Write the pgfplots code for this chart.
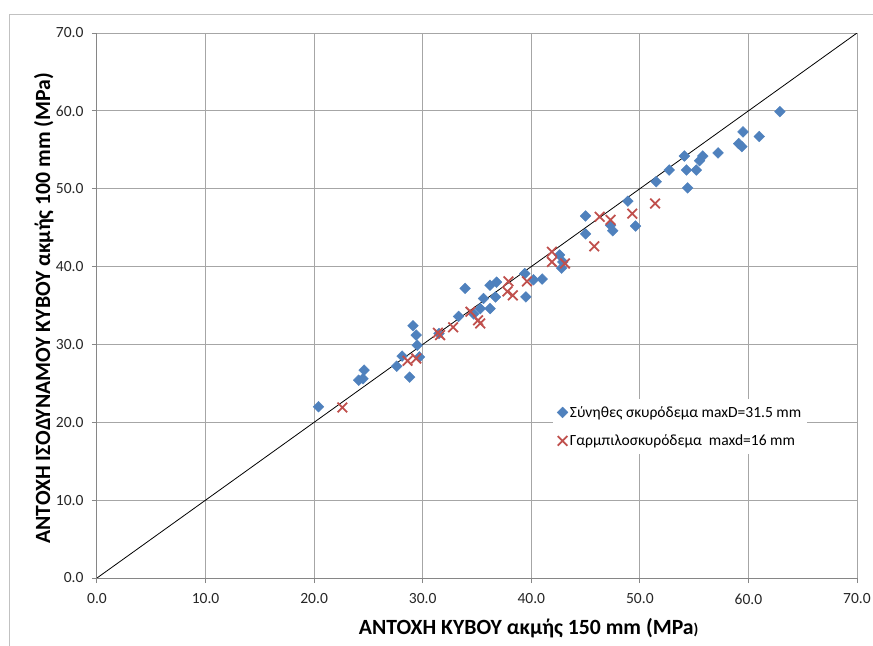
\documentclass[border=0pt]{standalone}
\usepackage{pgfplots}
\pgfplotsset{compat=1.18}
\usepackage{fontspec}
\setmainfont{Carlito}
\definecolor{serblue}{HTML}{4F81BD}
\definecolor{serred}{HTML}{C0504D}
\definecolor{gridgray}{HTML}{A6A6A6}
\definecolor{axgray}{HTML}{868686}

\begin{document}
\begin{tikzpicture}
\useasboundingbox (-97bp,-68bp) rectangle (776bp,578bp);
\draw[gridgray!70, line width=0.9bp] (-88bp,-68bp) -- (-88bp,564bp) -- (776bp,564bp);
\begin{axis}[
  scale only axis, width=760bp, height=545bp,
  xmin=0, xmax=70, ymin=0, ymax=70,
  xtick={0,10,...,70}, ytick={0,10,...,70},
  axis lines=left, axis line style={-, draw=axgray, line width=1bp},
  grid=major, major grid style={gridgray, line width=1bp},
  tick align=outside, major tick length=5bp, tick style={axgray, line width=1bp},
  /pgf/number format/fixed, /pgf/number format/fixed zerofill,
  /pgf/number format/precision=1, /pgf/number format/assume math mode=true,
  ticklabel style={font=\fontsize{15.6}{18}\selectfont, text=black!85},
  xticklabel style={yshift=-7bp},
  yticklabel style={xshift=-5bp},
  xlabel={ΑΝΤΟΧΗ ΚΥΒΟΥ ακμής 150 mm (MPa{\fontsize{15.5}{15.5}\selectfont )}},
  ylabel={ΑΝΤΟΧΗ ΙΣΟΔΥΝΑΜΟΥ ΚΥΒΟΥ ακμής 100 mm (MPa)},
  xlabel style={font=\bfseries\fontsize{21.8}{25}\selectfont, at={(axis description cs:0.568,-0.103)}, anchor=base},
  ylabel style={font=\bfseries\fontsize{21.8}{25}\selectfont, at={(axis description cs:-0.07,0.495)}, anchor=center},
  legend style={at={(axis description cs:0.6,0.3284)}, anchor=north west, draw=none, fill=white,
    font=\fontsize{15.6}{18}\selectfont, row sep=12bp, inner xsep=4bp, inner ysep=5bp},
  legend cell align=left,
]
\addplot[only marks, mark=square*, mark size=3.8bp,
  mark options={rotate=45, fill=serblue, draw=serblue}] coordinates {
  (20.4,22.0) (24.1,25.4) (24.5,25.6) (24.6,26.7) (27.6,27.2) (28.1,28.5)
  (28.8,25.8) (29.1,32.4) (29.4,31.2) (29.5,29.9) (29.7,28.4) (31.5,31.4)
  (33.3,33.6) (33.9,37.2) (34.7,33.9) (35.3,34.6) (35.6,35.9) (36.2,34.6)
  (36.2,37.6) (36.8,38.0) (36.7,36.1) (39.4,39.1) (39.5,36.1) (40.2,38.3)
  (41.0,38.4) (42.6,41.5) (42.9,40.6) (42.8,39.8) (45.0,46.5) (45.0,44.2)
  (47.3,45.3) (47.5,44.6) (49.6,45.2) (48.9,48.4) (51.5,50.9) (52.7,52.4)
  (54.1,54.2) (54.3,52.4) (54.4,50.1) (55.2,52.4) (55.5,53.6) (55.8,54.2)
  (57.2,54.6) (59.1,55.8) (59.4,55.4) (59.5,57.3) (61.0,56.7) (62.9,59.9)
};
\addlegendentry{Σύνηθες σκυρόδεμα maxD=31.5 mm}
\addplot[only marks, mark=x, mark size=6.8bp,
  mark options={draw=serred, line width=1.8bp}] coordinates {
  (22.6,21.9) (28.6,27.9) (29.4,28.2) (31.4,31.5) (31.6,31.2) (32.8,32.2)
  (34.4,34.2) (35.1,33.1) (35.3,32.7) (37.9,38.1) (37.8,36.8) (38.3,36.3)
  (39.6,38.1) (41.9,41.9) (41.9,40.6) (43.1,40.4) (45.8,42.6) (46.3,46.4)
  (47.3,46.0) (49.3,46.8) (51.4,48.1)
};
\addlegendentry{Γαρμπιλοσκυρόδεμα\ \ maxd=16 mm}
\addplot[black, line width=0.8bp, forget plot] coordinates {(0,0) (70,70)};
\end{axis}
\end{tikzpicture}
\end{document}
